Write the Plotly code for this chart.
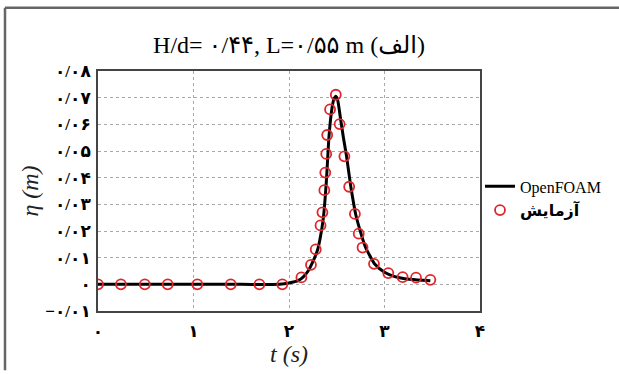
import plotly.graph_objects as go

# OpenFOAM numerical curve
t_line = [0, 0.5, 1.0, 1.5, 1.9, 2.0, 2.1, 2.15, 2.2, 2.25, 2.3, 2.33, 2.36, 2.39, 2.42,
          2.45, 2.47, 2.49, 2.51, 2.54, 2.57, 2.6, 2.65, 2.7, 2.75, 2.8, 2.85, 2.9,
          3.0, 3.1, 3.2, 3.3, 3.4, 3.48]
eta_line = [0, 0, 0, 0, 0, 0.0005, 0.0015, 0.0028, 0.005, 0.0085, 0.013, 0.018, 0.025,
            0.038, 0.056, 0.066, 0.0695, 0.0705, 0.069, 0.062, 0.055, 0.0486, 0.036,
            0.026, 0.0195, 0.014, 0.0105, 0.0075, 0.0045, 0.003, 0.0022, 0.0018,
            0.0015, 0.0013]

# Experimental points
t_exp = [0.0, 0.24, 0.49, 0.73, 1.04, 1.39, 1.69, 1.93, 2.13, 2.23, 2.28, 2.33, 2.35,
         2.37, 2.38, 2.39, 2.40, 2.43, 2.49, 2.53, 2.58, 2.63, 2.69, 2.73, 2.77, 2.89,
         3.04, 3.19, 3.33, 3.48]
eta_exp = [0.0, 0.0, 0.0, 0.0, 0.0, 0.0, 0.0, 0.0, 0.0026, 0.0073, 0.0131, 0.0221, 0.027,
           0.0353, 0.0419, 0.0489, 0.056, 0.0656, 0.0711, 0.0601, 0.048, 0.0366, 0.0264,
           0.019, 0.0138, 0.0077, 0.0042, 0.0027, 0.0025, 0.0017]

x_ticks = [0, 1, 2, 3, 4]
x_tick_text = ["۰", "۱", "۲", "۳", "۴"]
y_ticks = [-0.01, 0, 0.01, 0.02, 0.03, 0.04, 0.05, 0.06, 0.07, 0.08]
y_tick_text = ["−۰/۰۱", "۰", "۰/۰۱", "۰/۰۲", "۰/۰۳", "۰/۰۴", "۰/۰۵", "۰/۰۶", "۰/۰۷", "۰/۰۸"]

title_text = "H/d= ۰/۴۴, L=۰/۵۵ m (الف)"
name_line = "OpenFOAM"
name_exp = "<b>آزمایش</b>"

FONT = "Liberation Serif, DejaVu Serif, DejaVu Sans, serif"

fig = go.Figure()
fig.add_trace(go.Scatter(x=t_line, y=eta_line, mode="lines", name=name_line,
                         line=dict(color="black", width=3, shape="spline", smoothing=0.6)))
fig.add_trace(go.Scatter(x=t_exp, y=eta_exp, mode="markers", name=name_exp,
                         marker=dict(symbol="circle-open", size=10, color="#e0262b",
                                     line=dict(width=1.8, color="#e0262b"))))

fig.update_layout(
    width=619, height=374,
    margin=dict(l=98, r=139, t=71, b=60),
    paper_bgcolor="white", plot_bgcolor="white",
    font=dict(family=FONT, color="black"),
    title=dict(text=title_text, x=0.5, xref="paper", xanchor="center",
               y=1 - 45 / 374, yanchor="middle",
               font=dict(size=24, family=FONT, color="black")),
    showlegend=True,
    legend=dict(x=1.0, y=0.59, xanchor="left", yanchor="top",
                font=dict(size=16, family=FONT, color="black"),
                bgcolor="rgba(0,0,0,0)", tracegroupgap=0, itemwidth=30),
    xaxis=dict(range=[0, 4], tickvals=x_ticks, ticktext=x_tick_text,
               showgrid=True, gridcolor="#a8a8a8", griddash="3px,3px", gridwidth=1,
               showline=True, linecolor="#444", linewidth=1.5, mirror=True,
               ticks="", zeroline=False, ticklabelstandoff=4,
               tickfont=dict(size=17, family=FONT, color="black", weight="bold"),
               title=dict(text="<i>t (s)</i>", standoff=4,
                          font=dict(size=24, family=FONT, color="#222"))),
    yaxis=dict(range=[-0.01, 0.08], tickvals=y_ticks, ticktext=y_tick_text,
               showgrid=True, gridcolor="#a8a8a8", griddash="3px,3px", gridwidth=1,
               showline=True, linecolor="#444", linewidth=1.5, mirror=True,
               ticks="", zeroline=False, ticklabelstandoff=2,
               tickfont=dict(size=17, family=FONT, color="black", weight="bold"),
               title=dict(text="<i>η (m)</i>", standoff=0,
                          font=dict(size=24, family=FONT, color="#222"))),
)

# outer frame (top and left edges visible)
fig.add_shape(type="line", xref="paper", yref="paper",
              x0=(5 - 98) / 382, x1=(619 - 98) / 382,
              y0=(314 - 7) / 243, y1=(314 - 7) / 243,
              line=dict(color="#666", width=2.5))
fig.add_shape(type="line", xref="paper", yref="paper",
              x0=(5 - 98) / 382, x1=(5 - 98) / 382,
              y0=(314 - 7) / 243, y1=(314 - 374) / 243,
              line=dict(color="#666", width=2.5))

fig.write_html("out.html", config={"displayModeBar": False},
               post_script="document.body.style.margin='0';document.body.style.padding='0';")
